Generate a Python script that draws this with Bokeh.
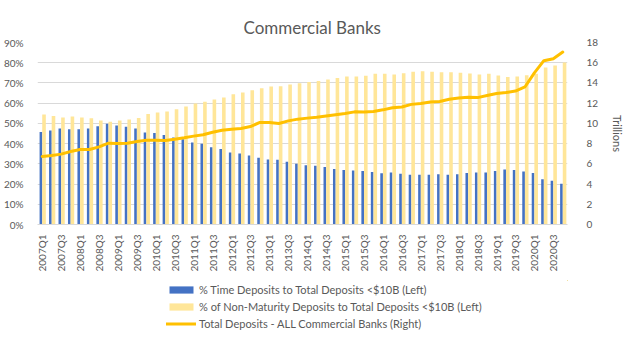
from bokeh.plotting import figure
from bokeh.layouts import column
from bokeh.models import (ColumnDataSource, Range1d, LinearAxis, FixedTicker,
                          PrintfTickFormatter, Legend, LegendItem)
from bokeh.embed import file_html
from bokeh.resources import INLINE
import math

quarters = [f"{y}Q{q}" for y in range(2007, 2021) for q in range(1, 5)]

time_dep = [45.8, 46.5, 47.5, 47.1, 47.1, 47.5, 48.6, 49.8, 49.0, 48.3,
            47.5, 45.5, 45.2, 44.2, 43.0, 42.2, 40.5, 39.9, 38.2, 37.3,
            35.6, 35.1, 34.1, 33.0, 32.1, 32.0, 31.0, 30.0, 29.3, 29.0,
            28.4, 27.5, 26.9, 26.7, 26.4, 25.9, 25.4, 25.7, 25.1, 24.6,
            24.6, 24.6, 24.9, 24.6, 24.9, 25.5, 25.7, 25.7, 26.5, 27.2,
            26.9, 26.2, 25.5, 22.4, 21.6, 20.1]

non_maturity = [54.4, 53.6, 52.9, 53.4, 52.9, 52.6, 51.4, 50.8, 51.4, 51.9,
                52.7, 54.6, 55.4, 55.9, 57.0, 58.3, 59.8, 60.7, 61.8, 62.8,
                64.4, 65.3, 66.4, 67.4, 68.2, 68.4, 69.2, 69.9, 70.5, 71.0,
                71.7, 72.5, 73.2, 73.2, 73.5, 74.5, 74.5, 74.2, 74.8, 75.5,
                75.8, 75.5, 75.3, 75.3, 75.0, 74.7, 74.2, 74.5, 73.7, 72.9,
                73.2, 73.8, 74.6, 77.6, 78.6, 80.1]

total_deposits = [6.73, 6.82, 6.96, 7.22, 7.42, 7.42, 7.68, 8.04, 8.01, 8.04,
                  8.21, 8.34, 8.34, 8.31, 8.44, 8.57, 8.74, 8.87, 9.13, 9.33,
                  9.43, 9.50, 9.69, 10.09, 10.09, 9.99, 10.25, 10.42, 10.52, 10.60,
                  10.72, 10.85, 10.98, 11.14, 11.12, 11.18, 11.34, 11.55, 11.62, 11.88,
                  11.97, 12.12, 12.17, 12.38, 12.50, 12.58, 12.55, 12.75, 12.95, 13.05,
                  13.20, 13.60, 15.00, 16.20, 16.40, 17.05]

left_ticks = [0, 10, 20, 30, 40, 50, 60, 70, 80, 90]
right_ticks = [0, 2, 4, 6, 8, 10, 12, 14, 16, 18]

FONT = "Lato"
TXT = "#595959"
GRID = "#D9D9D9"
BLUE = "#4472C4"
YELLOW = "#FFE699"
ORANGE = "#FFC000"

idx = list(range(len(quarters)))
src = ColumnDataSource(dict(
    x=idx,
    xb=[i - 0.14 for i in idx],
    xy=[i + 0.19 for i in idx],
    time_dep=time_dep,
    non_mat=non_maturity,
    total=total_deposits,
))

p = figure(width=627, height=280, output_backend="svg", toolbar_location=None,
           x_range=Range1d(-0.5, len(quarters) - 0.5), y_range=Range1d(0, 90),
           min_border_left=32, min_border_right=55, min_border_top=42, min_border_bottom=56)
p.outline_line_color = None
p.extra_y_ranges = {"tril": Range1d(0, 18)}

bar_kw = dict(source=src, line_color=None)
p.vbar(x="xb", top="time_dep", width=0.28, color=BLUE, **bar_kw)
p.vbar(x="xy", top="non_mat", width=0.38, color=YELLOW, **bar_kw)
line_kw = dict(source=src, line_color=ORANGE, line_width=3, line_join="round", line_cap="round")
p.line(x="x", y="total", y_range_name="tril", **line_kw)

# x axis
xa = p.xaxis[0]
xa.ticker = FixedTicker(ticks=list(range(0, len(quarters), 2)))
xa.major_label_overrides = {i: quarters[i] for i in range(0, len(quarters), 2)}
xa.major_label_orientation = math.pi / 2
xa.major_tick_line_color = None
xa.minor_tick_line_color = None
xa.axis_line_color = GRID
xa.major_label_text_font = FONT
xa.major_label_text_font_size = "10px"
xa.major_label_text_color = TXT
xa.major_label_standoff = 4

# left y axis
ya = p.yaxis[0]
ya.ticker = FixedTicker(ticks=left_ticks)
ya.formatter = PrintfTickFormatter(format="%d%%")
ya.axis_line_color = None
ya.major_tick_line_color = None
ya.minor_tick_line_color = None
ya.major_label_text_font = FONT
ya.major_label_text_font_size = "10px"
ya.major_label_text_color = TXT
ya.major_label_standoff = 8

# right y axis
ra = LinearAxis(y_range_name="tril", ticker=FixedTicker(ticks=right_ticks),
                axis_label="Trillions")
ra.axis_line_color = None
ra.major_tick_line_color = None
ra.minor_tick_line_color = None
ra.major_label_text_font = FONT
ra.major_label_text_font_size = "10px"
ra.major_label_text_color = TXT
ra.major_label_standoff = 13
ra.axis_label_text_font = FONT
ra.axis_label_text_font_size = "11px"
ra.axis_label_text_font_style = "normal"
ra.axis_label_text_color = TXT
ra.axis_label_standoff = 10
p.add_layout(ra, "right")

p.xgrid.grid_line_color = None
p.ygrid.grid_line_color = GRID
p.ygrid.ticker = FixedTicker(ticks=left_ticks)

p.title.text = "Commercial Banks"
p.title.align = "left"
p.title.offset = 206
p.title.text_font = FONT
p.title.text_font_size = "17px"
p.title.text_color = TXT
p.title.text_font_style = "normal"

# legend strip below the chart (its glyphs lie outside its view; only the legend shows)
lf = figure(width=627, height=65, output_backend="svg", toolbar_location=None,
            x_range=Range1d(-10, -9), y_range=Range1d(-10, -9),
            x_axis_location=None, y_axis_location=None,
            min_border_left=0, min_border_right=0, min_border_top=0, min_border_bottom=0)
lf.outline_line_color = None
lf.xgrid.visible = False
lf.ygrid.visible = False
lb = lf.vbar(x="xb", top="time_dep", width=0.28, color=BLUE, **bar_kw)
ly = lf.vbar(x="xy", top="non_mat", width=0.38, color=YELLOW, **bar_kw)
ll = lf.line(x="x", y="total", **line_kw)

legend = Legend(items=[
    LegendItem(label="% Time Deposits to Total Deposits <$10B (Left)", renderers=[lb]),
    LegendItem(label="% of Non-Maturity Deposits to Total Deposits <$10B (Left)", renderers=[ly]),
    LegendItem(label="Total Deposits - ALL Commercial Banks (Right)", renderers=[ll]),
], location=(129, 13))
legend.border_line_color = None
legend.background_fill_alpha = 0
legend.padding = 0
legend.margin = 0
legend.spacing = 0
legend.glyph_width = 30
legend.glyph_height = 9
legend.label_height = 17
legend.label_standoff = 3
legend.label_text_font = FONT
legend.label_text_font_size = "11px"
legend.label_text_color = TXT
lf.add_layout(legend, "center")

page = column(p, lf)
open("out.html", "w").write(file_html(page, INLINE))
